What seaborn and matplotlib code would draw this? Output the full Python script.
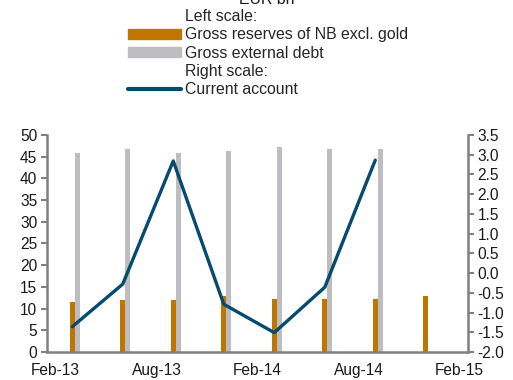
import matplotlib
matplotlib.use('Agg')
import matplotlib.pyplot as plt
import matplotlib.patches as mpatches
from matplotlib.lines import Line2D
import pandas as pd
import seaborn as sns

# quarterly data, months counted from Feb-13
months = [1, 4, 7, 10, 13, 16, 19, 22]
reserves = [11.4, 11.9, 11.9, 12.8, 12.3, 12.3, 12.3, 12.9]
ext_debt = [45.9, 46.7, 45.9, 46.3, 47.3, 46.7, 46.7, None]
cur_acc = [-1.36, -0.28, 2.84, -0.79, -1.51, -0.36, 2.86, None]
tick_months = [0, 6, 12, 18, 24]
tick_labels = ['Feb-13', 'Aug-13', 'Feb-14', 'Aug-14', 'Feb-15']

ORANGE = '#BF7600'
GREY = '#BDBDC1'
NAVY = '#064A6E'
AXC = '#808080'

sns.set_theme(style='white')
plt.rcParams['font.family'] = ['Liberation Sans', 'DejaVu Sans']

df = pd.DataFrame({'month': months, 'reserves': reserves,
                   'debt': ext_debt, 'ca': cur_acc})
df_res = df[['month', 'reserves']]
df_debt = df[['month', 'debt']].dropna().copy()
df_debt['month'] = df_debt['month'] + 0.3   # grey bar sits right of orange
df_ca = df[['month', 'ca']].dropna()

fig = plt.figure(figsize=(5.13, 3.8), dpi=100)
ax = fig.add_axes([0.0916, 0.0737, 0.8204, 0.5713])

sns.barplot(data=df_res, x='month', y='reserves', native_scale=True, width=0.1,
            color=ORANGE, saturation=1, errorbar=None, ax=ax, linewidth=0)
sns.barplot(data=df_debt, x='month', y='debt', native_scale=True, width=0.1,
            color=GREY, saturation=1, errorbar=None, ax=ax, linewidth=0)

ax2 = ax.twinx()
sns.lineplot(data=df_ca, x='month', y='ca', color=NAVY, linewidth=2.4, ax=ax2)

ax.set_xlim(-0.5, 24.5)
ax.set_ylim(0, 50)
ax.set_yticks(range(0, 51, 5))
ax2.set_ylim(-2.0, 3.5)
ax2.set_yticks([-2.0 + 0.5 * i for i in range(12)])
ax2.set_yticklabels(['%.1f' % (-2.0 + 0.5 * i) for i in range(12)])
ax.set_xticks(tick_months)
ax.set_xticklabels(tick_labels)
ax.set_xlabel('')
ax.set_ylabel('')
ax2.set_ylabel('')

for a in (ax, ax2):
    for s in a.spines.values():
        s.set_visible(False)
ax.spines['left'].set_visible(True)
ax.spines['bottom'].set_visible(True)
ax2.spines['right'].set_visible(True)
for s in (ax.spines['left'], ax.spines['bottom'], ax2.spines['right']):
    s.set_color(AXC)
    s.set_linewidth(1.8)

ax.tick_params(axis='y', left=True, length=4, width=1.5, color=AXC,
               labelsize=11.2, labelcolor='#1a1a1a', pad=3)
ax.tick_params(axis='x', bottom=False, labelsize=11.2, labelcolor='#1a1a1a', pad=2)
ax2.tick_params(axis='y', right=True, length=4, width=1.5, color=AXC,
                labelsize=11.2, labelcolor='#1a1a1a', pad=3)

blank = mpatches.Rectangle((0, 0), 1, 1, alpha=0)
handles = [blank,
           mpatches.Rectangle((0, 0), 1, 1, color=ORANGE),
           mpatches.Rectangle((0, 0), 1, 1, color=GREY),
           blank,
           Line2D([], [], color=NAVY, linewidth=3)]
labels = ['Left scale:', 'Gross reserves of NB excl. gold', 'Gross external debt',
          'Right scale:', 'Current account']
fig.legend(handles, labels, loc='upper left', bbox_to_anchor=(0.25, 0.9755),
           frameon=False, fontsize=11.4, handlelength=3.3, handleheight=0.6,
           handletextpad=0.3, labelspacing=0.2, borderaxespad=0, borderpad=0)

fig.text(0.52, 0.99, 'EUR bn', ha='center', va='baseline', fontsize=11.4,
         color='#1a1a1a')

fig.savefig('out.png', dpi=100)
